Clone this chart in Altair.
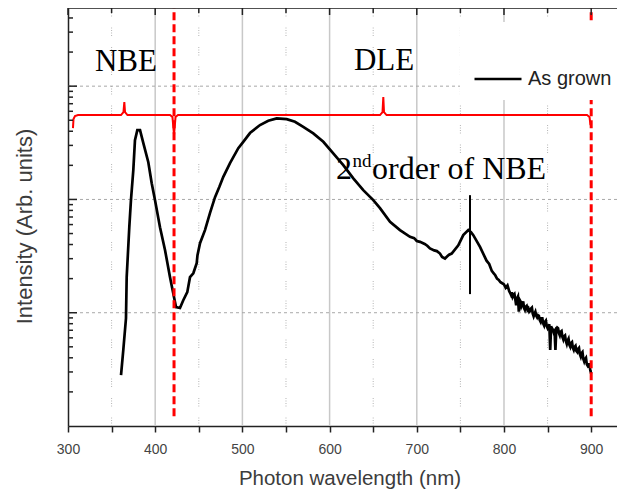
import altair as alt
import pandas as pd

# ---------------- data ----------------
series_name = "As grown"

wavelength = [
    360.8, 363.4, 366.5, 367.3, 370.3, 372.2, 374.9, 376.8, 379.5, 382.6,
    386.4, 392.1, 396.0, 399.8, 405.5, 411.3, 417.0, 421.6, 423.9, 428.4,
    432.2, 436.8, 439.9, 443.7, 447.6, 448.5, 451.4, 457.1, 462.8, 468.6,
    473.5, 478.1, 485.8, 495.3, 501.0, 508.7, 520.2, 529.7, 539.3, 550.8,
    560.3, 569.8, 581.3, 592.8, 604.2, 615.7, 627.2, 638.6, 650.1, 657.8,
    669.3, 680.7, 692.2, 697.0, 700.0, 703.7, 709.0, 712.0, 715.1, 720.0,
    723.0, 726.6, 729.0, 732.3, 735.0, 737.0, 740.0, 747.6, 753.3, 759.1,
    762.2, 764.8, 772.5,
    780, 783, 786, 788, 790, 792, 794, 796, 798, 800, 802, 804,
    806, 807, 808, 809, 810, 811, 812, 813, 814, 815,
    816, 817, 818, 819, 820, 821, 822, 823, 824, 825,
    826, 827, 828, 829, 830, 831, 832, 833, 834, 835,
    836, 837, 838, 839, 840, 841, 842, 843, 844, 845,
    846, 847, 848, 849, 850, 851, 852, 853, 854, 855,
    856, 857, 858, 859, 860, 861, 862, 863, 864, 865,
    866, 867, 868, 869, 870, 871, 872, 873, 874, 875,
    876, 877, 878, 879, 880, 881, 882, 883, 884, 885,
    886, 887, 888, 889, 890, 891, 892, 893, 894, 895,
    896, 897, 898, 899, 900,
]
intensity = [
    2.81, 4.67, 8.93, 20.6, 56.9, 98.6, 181.6, 334, 409, 409,
    314, 213, 139, 98.6, 56.9, 35.6, 20.6, 13.7, 11.2, 11.0,
    12.9, 15.2, 20.6, 22.3, 27.4, 32.2, 41.1, 53.6, 75.7, 104.7,
    128.5, 158.5, 209.4, 283.8, 322.8, 385.5, 453.9, 494.3, 520, 511.7,
    485.3, 437.5, 382.8, 322.8, 254.7, 200.9, 153.5, 120.8, 98.6, 83.8,
    63.4, 53.6, 46.8, 45.5, 43.0, 42.2, 40.5, 39.0, 36.9, 35.5,
    35.0, 33.3, 31.0, 30.1, 31.5, 32.5, 33.3, 39.4, 48.4, 53.6,
    51.4, 48.4, 38.1,
    28.8, 26.9, 23.4, 22.4, 21.4, 20.0, 19.5, 18.6, 18.2, 17.8, 16.6, 17.4,
    15.5, 15.0, 14.4, 15.2, 13.8, 14.3, 14.6, 13.1, 11.6, 13.4,
    13.9, 10.2, 13.0, 12.6, 11.4, 11.9, 12.6, 11.0, 10.6, 11.3,
    11.5, 10.6, 10.9, 10.2, 10.4, 10.9, 11.1, 9.8, 9.3, 9.8,
    10.2, 9.4, 9.1, 9.5, 9.4, 8.6, 8.3, 8.9, 8.9, 8.0,
    7.7, 8.3, 8.5, 7.6, 7.3, 7.6, 7.9, 4.7, 7.6, 7.3,
    7.1, 6.7, 6.9, 4.7, 7.2, 7.4, 7.3, 6.6, 6.3, 6.8,
    6.9, 6.1, 5.8, 6.2, 6.3, 5.6, 5.3, 5.7, 5.9, 5.2,
    5.0, 5.4, 5.5, 4.9, 4.7, 5.0, 5.1, 4.6, 4.5, 4.8,
    4.9, 4.3, 4.1, 4.4, 4.5, 3.9, 3.7, 3.9, 4.0, 3.5,
    3.4, 3.5, 3.5, 3.1, 2.9,
]

# curly braces (NBE and DLE ranges)
brace_wl = [305.7, 306.3, 308.0, 311.5, 360.8, 363.6, 364.6, 365.4, 368.2,
            417.0, 419.8, 421.6, 423.3, 426.1, 657.8, 660.7, 661.6, 662.4,
            665.3, 895.2, 898.1, 899.2]
brace_int = [426.6, 511.7, 544.5, 555.9, 555.9, 590.2, 722.8, 590.2, 555.9,
             555.9, 533.3, 372.0, 533.3, 555.9, 555.9, 590.2, 799.8, 590.2,
             555.9, 555.9, 533.3, 452.9]

red_line_wl = [421.6, 900]
red_line_low = 1.218
marker_wl = [761]
marker_low = 14.6
marker_high = 109.1

x_tick_values = [300, 350, 400, 450, 500, 550, 600, 650, 700, 750, 800, 850, 900]
x_major_grid = [400, 500, 600, 700, 800]
x_minor_grid = [350, 450, 550, 650, 750, 850]
top_major = [300, 400, 500, 600, 700, 800, 900]
top_minor = [350, 450, 550, 650, 750, 850]
y_grid = [10, 100, 1000]
y_major_ticks = [10, 100, 1000]
y_minor_ticks = [2, 3, 4, 5, 6, 7, 8, 9, 20, 30, 40, 50, 60, 70, 80, 90,
                 200, 300, 400, 500, 600, 700, 800, 900, 2000, 3000, 4000]

labels_big = ["NBE", "DLE"]
labels_big_wl = [366.5, 662.4]
labels_big_int = [1359, 1387]
label_2nd = ["2", "nd", "order of NBE"]
label_2nd_wl = [607.3, 626.3, 648.6]
label_2nd_int = [151, 193, 151]

# ---------------- chart ----------------
W, H = 549, 418
X_MAX = 929.6
Y_MAX = 4898

xs = alt.Scale(domain=[300, X_MAX], nice=False, zero=False)
ys = alt.Scale(type="log", domain=[1, Y_MAX], nice=False)

AX = "#222222"
x_axis = alt.Axis(
    values=x_tick_values,
    labelExpr="datum.value % 100 == 0 ? datum.label : ''",
    title="Photon wavelength (nm)", grid=False,
    tickSize=6, tickWidth=1.5, tickColor=AX,
    domainColor=AX, domainWidth=1.5,
    labelFont="Liberation Sans", labelFontSize=14, labelColor="#444444",
    labelPadding=10, labelFlush=False, labelOverlap=False,
    titleFont="Liberation Sans", titleFontSize=20.5, titleFontWeight="normal",
    titleColor="#3c3c3c", titleX=281.5, titleY=58, titleBaseline="alphabetic",
)
y_axis = alt.Axis(
    labels=False, ticks=False, grid=False,
    domainColor=AX, domainWidth=1.5,
    title="Intensity (Arb. units)",
    titleFont="Liberation Sans", titleFontSize=22, titleFontWeight="normal",
    titleColor="#3c3c3c", titleX=-37, titleY=218, titleAngle=270,
    titleBaseline="alphabetic", titleAlign="center",
)


def X(field):
    return alt.X(field, type="quantitative", scale=xs, axis=x_axis)


def Y(field):
    return alt.Y(field, type="quantitative", scale=ys, axis=y_axis)


curve_df = pd.DataFrame({"wl": wavelength, "I": intensity, "series": series_name})
brace_df = pd.DataFrame({"wl": brace_wl, "I": brace_int, "i": range(len(brace_wl))})
red_df = pd.DataFrame({"wl": red_line_wl, "lo": red_line_low, "hi": Y_MAX})
marker_df = pd.DataFrame({"wl": marker_wl, "lo": marker_low, "hi": marker_high})
one = pd.DataFrame({"a": [0]})

grid_major = alt.Chart(pd.DataFrame({"v": x_major_grid})).mark_rule(
    color="#c8c8c8", strokeWidth=1.5).encode(x=X("v"))
grid_minor = alt.Chart(pd.DataFrame({"v": x_minor_grid})).mark_rule(
    color="#b4b4b4", strokeWidth=1,
    strokeDash=[1, 1.5, 1, 1.5, 1, 1.5, 1, 11]).encode(x=X("v"))
grid_y = alt.Chart(pd.DataFrame({"v": y_grid})).mark_rule(
    color="#a8a8a8", strokeWidth=1, strokeDash=[3, 3]).encode(y=Y("v"))

curve = alt.Chart(curve_df).mark_line(color="black", strokeWidth=2.7).encode(
    x=X("wl"), y=Y("I"),
    color=alt.Color("series:N",
                    scale=alt.Scale(domain=[series_name], range=["black"]),
                    legend=alt.Legend(
                        orient="none", legendX=405, legendY=46, title=None,
                        symbolType="stroke", symbolSize=2209,
                        symbolStrokeWidth=2.5, labelFont="Liberation Sans",
                        labelFontSize=20, labelColor="#222222", labelOffset=5,
                        padding=0)),
)

red_lines = alt.Chart(red_df).mark_rule(
    color="#ff0000", strokeWidth=3, strokeDash=[8, 4]).encode(
    x=X("wl"), y=Y("lo"), y2="hi")
marker = alt.Chart(marker_df).mark_rule(color="black", strokeWidth=2).encode(
    x=X("wl"), y=Y("lo"), y2="hi")
braces = alt.Chart(brace_df).mark_line(color="#ff0000", strokeWidth=2).encode(
    x=X("wl"), y=Y("I"), order="i:Q")

legend_box = alt.Chart(one).mark_rect(color="white").encode(
    x=alt.value(392), x2=alt.value(552), y=alt.value(14), y2=alt.value(92))

txt_big = alt.Chart(pd.DataFrame({"wl": labels_big_wl, "I": labels_big_int,
                                  "t": labels_big})).mark_text(
    font="Liberation Serif", fontSize=31, align="center", baseline="alphabetic",
    color="black").encode(x=X("wl"), y=Y("I"), text="t:N")
t2 = pd.DataFrame({"wl": label_2nd_wl, "I": label_2nd_int, "t": label_2nd})
txt_2 = alt.Chart(t2.iloc[[0, 2]]).mark_text(
    font="Liberation Serif", fontSize=32, align="left", baseline="alphabetic",
    color="black").encode(x=X("wl"), y=Y("I"), text="t:N")
txt_nd = alt.Chart(t2.iloc[[1]]).mark_text(
    font="Liberation Serif", fontSize=19, align="left", baseline="alphabetic",
    color="black").encode(x=X("wl"), y=Y("I"), text="t:N")

y_ticks_major = alt.Chart(pd.DataFrame({"v": y_major_ticks})).mark_rule(
    color=AX, strokeWidth=1.5).encode(y=Y("v"), x=alt.value(0), x2=alt.value(9))
y_ticks_minor = alt.Chart(pd.DataFrame({"v": y_minor_ticks})).mark_rule(
    color=AX, strokeWidth=1.5).encode(y=Y("v"), x=alt.value(0), x2=alt.value(5))
top_ticks_major = alt.Chart(pd.DataFrame({"v": top_major})).mark_rule(
    color=AX, strokeWidth=1.5).encode(x=X("v"), y=alt.value(0), y2=alt.value(7))
top_ticks_minor = alt.Chart(pd.DataFrame({"v": top_minor})).mark_rule(
    color=AX, strokeWidth=1.5).encode(x=X("v"), y=alt.value(0), y2=alt.value(5))
top_border = alt.Chart(one).mark_rule(color=AX, strokeWidth=1.5).encode(
    x=alt.value(0), x2=alt.value(W), y=alt.value(0))

chart = alt.layer(
    grid_major, grid_minor, grid_y, curve, red_lines, marker, braces,
    legend_box, txt_big, txt_2, txt_nd,
    y_ticks_major, y_ticks_minor, top_ticks_major, top_ticks_minor, top_border,
).properties(
    width=W, height=H,
    padding={"left": 60, "top": 0, "right": 0, "bottom": 65},
    autosize=alt.AutoSizeParams(type="none"),
).configure_view(stroke=None).configure(background="white")

chart.save("out.html", embed_options={"renderer": "svg", "actions": False})
